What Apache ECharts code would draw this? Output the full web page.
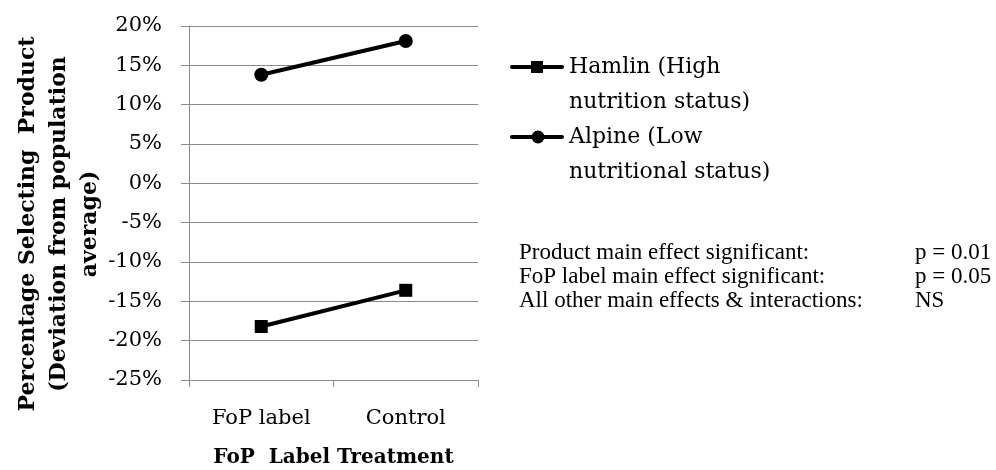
<!DOCTYPE html>
<html>
<head>
<meta charset="utf-8">
<script src="https://cdn.jsdelivr.net/npm/echarts@6/dist/echarts.min.js"></script>
<style>html,body{margin:0;padding:0;background:#fff;overflow:hidden;width:100%;height:100%;}#c{width:996px;height:470px;}</style>
</head>
<body>
<div id="c"></div>
<script>
const categories = ['FoP label', 'Control'];
const hamlinValues = [-18.2, -13.6];
const alpineValues = [13.8, 18.1];
const seriesNames = ['Hamlin (High\nnutrition status)', 'Alpine (Low\nnutritional status)'];
const yTitleLines = ['Percentage Selecting  Product', '(Deviation from population', 'average)'];
const xTitle = 'FoP  Label Treatment';
const noteLabels = ['Product main effect significant:', 'FoP label main effect significant:', 'All other main effects & interactions:'];
const noteValues = ['p = 0.01', 'p = 0.05', 'NS'];

const serif = '"DejaVu Serif", serif';
const times = '"Liberation Serif", "Times New Roman", serif';
const chart = echarts.init(document.getElementById('c'), null, {width: 996, height: 470});

const legendItems = [];
const legendSymbols = ['rect', 'circle'];
seriesNames.forEach((n, i) => {
  const y = 67 + i * 70;
  legendItems.push({
    type: 'line', shape: {x1: 512, y1: y, x2: 562, y2: y},
    style: {stroke: '#000', lineWidth: 4, lineCap: 'round'}
  });
  if (legendSymbols[i] === 'rect') {
    legendItems.push({type: 'rect', shape: {x: 531, y: y - 6, width: 12, height: 12}, style: {fill: '#000'}});
  } else {
    legendItems.push({type: 'circle', shape: {cx: 538, cy: y, r: 6.5}, style: {fill: '#000'}});
  }
  legendItems.push({
    type: 'text', x: 569, y: y - 17,
    style: {text: n, font: '22px ' + serif, fill: '#000', lineHeight: 35, textVerticalAlign: 'top'}
  });
});

const notes = [];
noteLabels.forEach((t, i) => {
  notes.push({type: 'text', x: 519, y: 253 + i * 24, style: {text: t, font: '23px ' + times, fill: '#000', textVerticalAlign: 'middle'}});
  notes.push({type: 'text', x: 915, y: 253 + i * 24, style: {text: noteValues[i], font: '23px ' + times, fill: '#000', textVerticalAlign: 'middle'}});
});

chart.setOption({
  animation: false,
  grid: {left: 189, right: 518, top: 26, bottom: 90, containLabel: false, outerBoundsMode: 'none'},
  xAxis: {
    type: 'category', data: categories, boundaryGap: true,
    axisLine: {onZero: false, lineStyle: {color: '#898989', width: 1}},
    axisTick: {show: true, length: 7, alignWithLabel: false, lineStyle: {color: '#898989'}},
    axisLabel: {color: '#000', fontFamily: serif, fontSize: 21, margin: 28},
    name: xTitle, nameLocation: 'middle', nameGap: 68,
    nameTextStyle: {color: '#000', fontFamily: serif, fontSize: 20, fontWeight: 'bold'}
  },
  yAxis: {
    type: 'value', min: -25, max: 20, interval: 5,
    axisLine: {show: true, lineStyle: {color: '#898989', width: 1}},
    axisTick: {show: true, length: 8, lineStyle: {color: '#898989'}},
    splitLine: {show: true, lineStyle: {color: '#898989', width: 1}},
    axisLabel: {color: '#000', fontFamily: serif, fontSize: 21, margin: 27, formatter: '{value}%'}
  },
  series: [
    {name: seriesNames[0], type: 'line', data: hamlinValues, symbol: 'rect', symbolSize: 13,
     lineStyle: {color: '#000', width: 4}, itemStyle: {color: '#000'}},
    {name: seriesNames[1], type: 'line', data: alpineValues, symbol: 'circle', symbolSize: 14,
     lineStyle: {color: '#000', width: 4}, itemStyle: {color: '#000'}}
  ],
  graphic: [
    {type: 'text', x: 59, y: 224, rotation: Math.PI / 2,
     style: {text: yTitleLines.join('\n'), font: 'bold 22px ' + serif, fill: '#000', align: 'center', verticalAlign: 'middle', lineHeight: 31}},
    ...legendItems,
    ...notes
  ]
});
</script>
</body>
</html>
